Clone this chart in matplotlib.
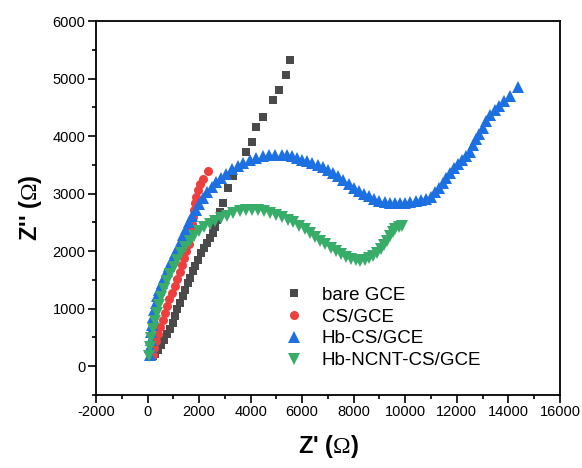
import matplotlib
matplotlib.use("Agg")
import matplotlib.pyplot as plt

plt.rcParams['font.family'] = ['Liberation Sans', 'DejaVu Sans']
plt.rcParams['mathtext.fontset'] = 'custom'
plt.rcParams['mathtext.rm'] = 'Liberation Serif'
plt.rcParams['axes.unicode_minus'] = False

# Nyquist data, Z' / Z'' in ohm
bare_x = [200, 290, 400, 520, 640, 760, 870, 970, 1060, 1160, 1260, 1360, 1450,
          1550, 1650, 1750, 1850, 1970, 2080, 2180, 2300, 2420, 2530, 2620, 2700,
          2810, 2940, 3120, 3300, 3820, 4040, 4220, 4460, 4880, 5100, 5370, 5520]
bare_y = [170, 220, 290, 370, 460, 560, 650, 760, 870, 990, 1100, 1220, 1330,
          1440, 1530, 1650, 1740, 1840, 1960, 2060, 2150, 2230, 2320, 2420, 2540,
          2680, 2840, 3090, 3300, 3730, 3890, 4160, 4340, 4630, 4800, 5070, 5320]

cs_x = [200, 260, 330, 410, 490, 580, 670, 760, 850, 950, 1050, 1150, 1250, 1340,
        1430, 1510, 1590, 1650, 1700, 1740, 1780, 1810, 1840, 1880, 1950, 2040,
        2150, 2350]
cs_y = [200, 320, 440, 560, 680, 800, 920, 1040, 1160, 1280, 1400, 1520, 1640,
        1760, 1880, 2000, 2120, 2240, 2360, 2480, 2600, 2720, 2840, 2950, 3060,
        3160, 3250, 3400]

hb_x = [100, 110, 125, 140, 165, 200, 250, 310, 380, 460, 550, 640, 740, 840,
        950, 1060, 1170, 1280, 1390, 1500, 1620, 1740, 1870, 2010, 2160, 2320,
        2490, 2670, 2860, 3060, 3270, 3490, 3720, 3960, 4210, 4460, 4710, 4960,
        5200, 5400, 5600, 5800, 6000, 6200, 6400, 6600, 6800, 7000, 7200, 7400,
        7600, 7800, 8000, 8200, 8400, 8600, 8800, 9000, 9200, 9400, 9600, 9800,
        10000, 10200, 10400, 10600, 10800, 11000, 11150, 11300, 11450, 11600,
        11750, 11900, 12050, 12200, 12350, 12500, 12620, 12750, 12880, 13020,
        13150, 13300, 13480, 13650, 13850, 14050, 14380]
hb_y = [200, 330, 460, 590, 720, 850, 980, 1100, 1220, 1330, 1440, 1540, 1650,
        1750, 1850, 1960, 2060, 2170, 2280, 2390, 2500, 2610, 2720, 2820, 2920,
        3020, 3110, 3200, 3280, 3350, 3420, 3480, 3530, 3580, 3620, 3650, 3670,
        3680, 3680, 3670, 3650, 3620, 3590, 3560, 3530, 3505, 3465, 3415, 3365,
        3305, 3240, 3170, 3105, 3050, 3000, 2955, 2910, 2875, 2850, 2840, 2835,
        2835, 2840, 2855, 2870, 2885, 2910, 2950, 3020, 3090, 3180, 3270, 3360,
        3440, 3520, 3580, 3650, 3730, 3840, 3950, 4040, 4140, 4260, 4370, 4450,
        4530, 4610, 4700, 4860]

ncnt_x = [60, 90, 140, 200, 270, 350, 440, 540, 650, 760, 880, 1010, 1150, 1300,
          1460, 1630, 1810, 2000, 2200, 2410, 2630, 2860, 3090, 3330, 3570, 3810,
          4050, 4290, 4530, 4770, 5000, 5220, 5440, 5660, 5880, 6100, 6300, 6500,
          6700, 6900, 7100, 7300, 7500, 7700, 7900, 8080, 8250, 8420, 8580, 8740,
          8900, 9040, 9170, 9290, 9400, 9510, 9620, 9740, 9860]
ncnt_y = [180, 330, 490, 640, 790, 930, 1070, 1210, 1350, 1480, 1600, 1720, 1840,
          1960, 2070, 2170, 2260, 2350, 2420, 2480, 2530, 2580, 2620, 2660, 2690,
          2710, 2720, 2710, 2690, 2660, 2625, 2590, 2550, 2500, 2440, 2380, 2320,
          2250, 2180, 2120, 2060, 2000, 1950, 1900, 1860, 1840, 1830, 1850, 1880,
          1920, 1970, 2030, 2100, 2180, 2260, 2330, 2380, 2420, 2440]

fig = plt.figure(figsize=(5.82, 4.68), dpi=100)
ax = fig.add_axes([0.165, 0.156, 0.797, 0.799])

ax.plot(bare_x, bare_y, 's', color='#4a4a4a', ms=6, mew=0, label='bare GCE')
ax.plot(cs_x, cs_y, 'o', color='#ef3e3e', ms=6.5, mew=0, label='CS/GCE')
ax.plot(hb_x, hb_y, '^', color='#1c70e2', ms=8, mew=0, label='Hb-CS/GCE')
ax.plot(ncnt_x, ncnt_y, 'v', color='#38ad6a', ms=8, mew=0, label='Hb-NCNT-CS/GCE')

ax.set_xlim(-2000, 16000)
ax.set_ylim(-500, 6000)
ax.set_xticks(range(-2000, 16001, 2000))
ax.set_xticks(range(-1000, 16000, 2000), minor=True)
ax.set_yticks(range(0, 6001, 1000))
ax.set_yticks(range(-500, 6000, 1000), minor=True)
ax.tick_params(which='major', direction='out', length=5.5, width=1.2, labelsize=10.5, pad=2)
ax.tick_params(which='minor', direction='out', length=3, width=1.2)
for s in ax.spines.values():
    s.set_linewidth(1.3)

ax.set_xlabel("Z' ($\\Omega$)", fontsize=17, fontweight='bold', labelpad=10)
ax.set_ylabel("Z'' ($\\Omega$)", fontsize=17, fontweight='bold', labelpad=6)

ax.legend(loc='center left', bbox_to_anchor=(275 / 582, 1 - 328 / 468),
          bbox_transform=fig.transFigure, frameon=False, fontsize=13.5,
          handlelength=1.0, handletextpad=1.0, labelspacing=0.25, borderpad=0)

fig.savefig('out.png', dpi=100)
